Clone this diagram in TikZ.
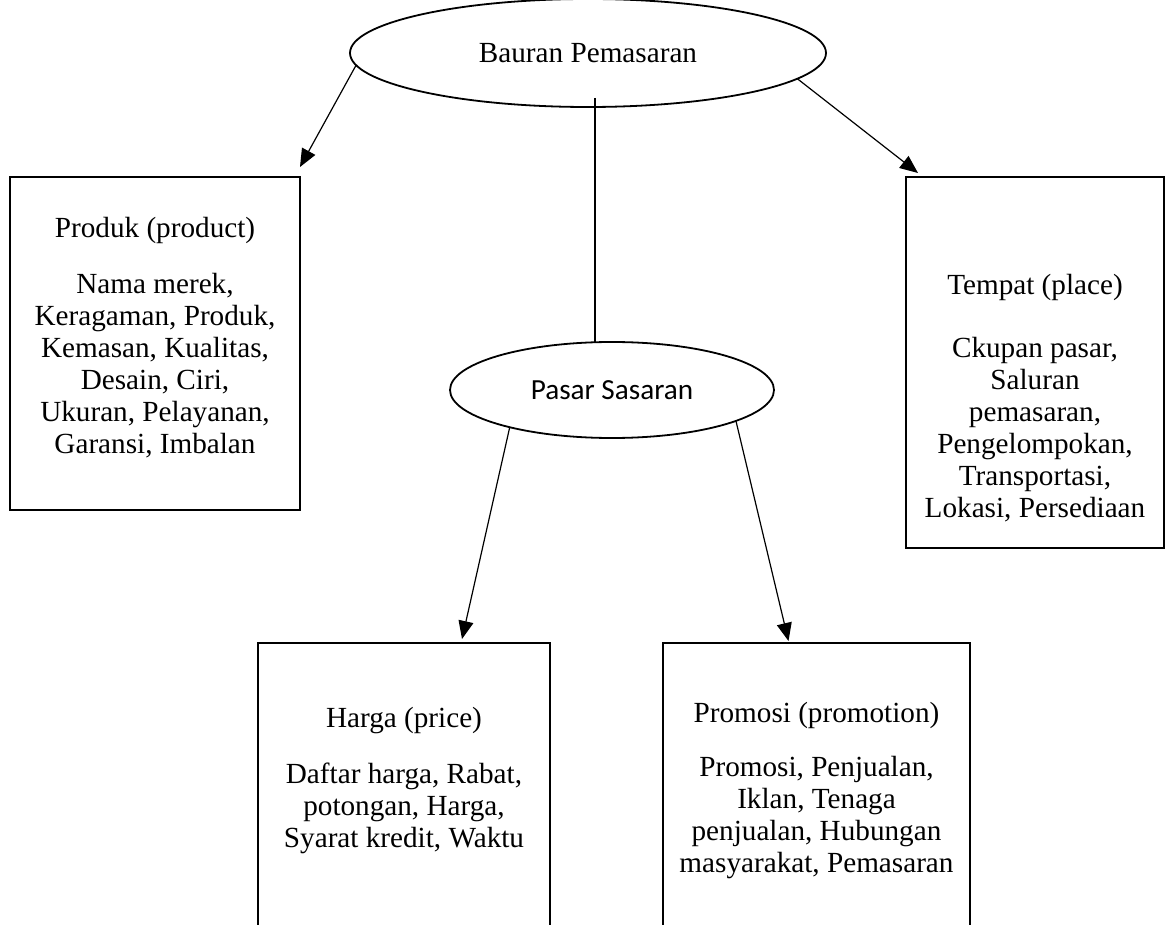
\documentclass[tikz,border=0pt]{standalone}
\usepackage{fontspec}
\setmainfont{Liberation Serif}
\newfontfamily\carlito{Carlito}
\usetikzlibrary{shapes.geometric,arrows.meta}

\begin{document}
\begin{tikzpicture}[x=0.5pt,y=-0.5pt,
		teks/.style={align=center,font=\fontsize{14.6}{16}\selectfont,inner sep=0pt},
		kotak/.style={line width=0.9pt,inner sep=0pt,outer sep=0pt},
		lonjong/.style={ellipse,draw,line width=0.9pt,inner sep=0pt,outer sep=0pt,font=\fontsize{14.6}{16}\selectfont},
		panah/.style={-{Triangle[length=9pt,width=7.5pt]},line width=0.6pt}]
		\useasboundingbox (0,0) rectangle (1174,925);
		%draw ellipses
		\node[lonjong,minimum width=238pt,minimum height=54pt] (bauran) at (588,53) {Bauran Pemasaran};
		\node[lonjong,minimum width=162pt,minimum height=48pt,font=\carlito\fontsize{14.6}{16}\selectfont] (pasar) at (612,390) {Pasar Sasaran};
		%draw boxes
		\node[kotak,draw,minimum width=145pt,minimum height=166.5pt] (produk) at (155,343.5) {};
		\node[kotak,draw,minimum width=129pt,minimum height=185.5pt] (tempat) at (1035,362.5) {};
		\node[kotak,minimum width=146pt,minimum height=141pt] (harga) at (404,784) {};
		\node[kotak,minimum width=153.5pt,minimum height=141pt] (promosi) at (816.5,784) {};
		\draw[kotak] (harga.south west) |- (harga.north east) -- (harga.south east);
		\draw[kotak] (promosi.south west) |- (promosi.north east) -- (promosi.south east);
		%draw texts
		\node[teks] (produkjudul) at (155,230) {Produk (product)};
		\node[teks] (produkisi) at (155,366) {Nama merek,\\Keragaman, Produk,\\Kemasan, Kualitas,\\Desain, Ciri,\\Ukuran, Pelayanan,\\Garansi, Imbalan};
		\node[teks] (tempatjudul) at (1035,287) {Tempat (place)};
		\node[teks] (tempatisi) at (1035,430) {Ckupan pasar,\\Saluran\\pemasaran,\\Pengelompokan,\\Transportasi,\\Lokasi, Persediaan};
		\node[teks] (hargajudul) at (404,721) {Harga (price)};
		\node[teks] (hargaisi) at (404,808) {Daftar harga, Rabat,\\potongan, Harga,\\Syarat kredit, Waktu};
		\node[teks] (promosijudul) at (816.5,715) {Promosi (promotion)};
		\node[teks] (promosiisi) at (816.5,818) {Promosi, Penjualan,\\Iklan, Tenaga\\penjualan, Hubungan\\masyarakat, Pemasaran};
		%draw connectors
		\draw[line width=0.6pt] ([xshift=3.5pt,yshift=4.5pt]bauran.south) -- ([xshift=3.5pt]bauran.south |- pasar.north);
		\draw[panah] (bauran.183) -- ([yshift=5pt]produk.north east);
		\draw[panah] (bauran.353) -- ([xshift=6pt,yshift=2pt]tempat.north west);
		\draw[panah] (pasar.200) -- ([xshift=29pt,yshift=2pt]harga.north);
		\draw[panah] (pasar.346) -- ([xshift=-14pt,yshift=1pt]promosi.north);
		
\end{tikzpicture}
\end{document}
